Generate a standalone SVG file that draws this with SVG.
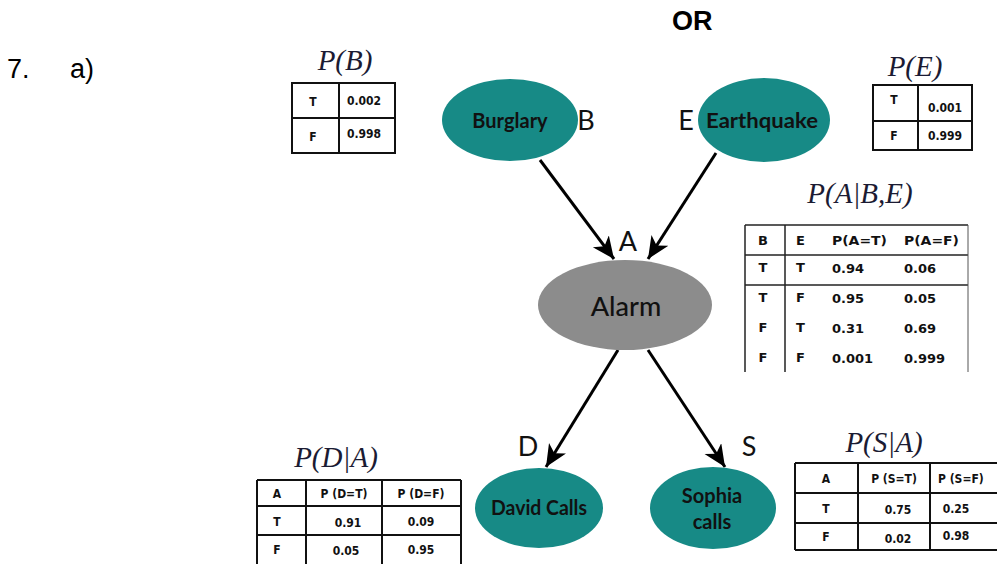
<svg xmlns="http://www.w3.org/2000/svg" width="997" height="564" viewBox="0 0 997 564">
<defs>
<marker id="arr" markerUnits="userSpaceOnUse" markerWidth="26" markerHeight="24" refX="22" refY="10" orient="auto">
<path d="M0,0 L22,10 L0,20 L6,10 z" fill="#000"/>
</marker>
</defs>
<style>
.q{font-family:"Liberation Sans",Arial,sans-serif;font-size:27px;fill:#000}
.teal{fill:#178a86}
.gray{fill:#8c8c8c}
.nl{font-family:Lato,"Open Sans",sans-serif;font-weight:bold;font-size:20px;fill:#111;text-anchor:middle}
.lab{font-family:Lato,"Open Sans",sans-serif;font-size:27px;fill:#111;text-anchor:middle}
.ttl{font-family:"Liberation Serif","Times New Roman",serif;font-style:italic;font-size:29px;fill:#1b1b33;text-anchor:middle}
.tb{fill:none;stroke:#111;stroke-width:2}
.tl{stroke:#111;stroke-width:2}
.tt{font-family:"DejaVu Sans",sans-serif;font-weight:bold;font-size:13px;fill:#111}
.ts{font-family:"DejaVu Sans Condensed","DejaVu Sans",sans-serif;font-weight:bold;font-size:12px;fill:#111}
.tc{text-anchor:middle}
.edge{stroke:#000;stroke-width:3;fill:none;marker-end:url(#arr)}
</style>
<rect width="997" height="564" fill="#fff"/>

<text class="q" x="7" y="78">7.</text>
<text class="q" x="70" y="78">a)</text>
<text class="q" x="672" y="30" font-weight="bold">OR</text>

<g id="connectors">
<line class="edge" x1="540" y1="160" x2="614" y2="259"/>
<line class="edge" x1="716" y1="153" x2="648" y2="259"/>
<line class="edge" x1="618" y1="350" x2="546" y2="467"/>
<line class="edge" x1="648" y1="350" x2="725" y2="467"/>
</g>

<g id="burglary">
<ellipse class="teal" cx="510" cy="120" rx="68" ry="41"/>
<text class="nl" x="510" y="128">Burglary</text>
<text class="lab" x="586" y="130">B</text>
</g>
<g id="earthquake">
<ellipse class="teal" cx="764" cy="120" rx="66" ry="42"/>
<text class="nl" x="762" y="128" textLength="112" lengthAdjust="spacingAndGlyphs">Earthquake</text>
<text class="lab" x="686" y="130">E</text>
</g>
<g id="alarm">
<ellipse class="gray" cx="625" cy="305" rx="87" ry="45"/>
<text class="lab" x="626" y="316" font-size="27" font-weight="500">Alarm</text>
<text class="lab" x="628" y="251" font-size="25">A</text>
</g>
<g id="david">
<ellipse class="teal" cx="539" cy="508" rx="64" ry="40"/>
<text class="nl" x="539" y="515" textLength="96" lengthAdjust="spacingAndGlyphs">David Calls</text>
<text class="lab" x="528" y="456" font-size="25">D</text>
</g>
<g id="sophia">
<ellipse class="teal" cx="713" cy="508" rx="63" ry="41"/>
<text class="nl" x="712" y="503">Sophia</text>
<text class="nl" x="712" y="529">calls</text>
<text class="lab" x="749" y="456" font-size="25">S</text>
</g>

<g id="pB">
<text class="ttl" x="345" y="70">P(B)</text>
<rect class="tb" x="292" y="83" width="103" height="70"/>
<line class="tl" x1="339" y1="83" x2="339" y2="153"/>
<line class="tl" x1="292" y1="118" x2="395" y2="118"/>
<text class="ts tc" x="313" y="106" font-size="11">T</text>
<text class="ts tc" x="364" y="105" font-size="11">0.002</text>
<text class="ts tc" x="313" y="141" font-size="11">F</text>
<text class="ts tc" x="364" y="138" font-size="11">0.998</text>
</g>

<g id="pE">
<text class="ttl" x="915" y="76">P(E)</text>
<rect class="tb" x="873" y="85" width="99" height="65"/>
<line class="tl" x1="918" y1="85" x2="918" y2="150"/>
<line class="tl" x1="873" y1="121" x2="972" y2="121"/>
<text class="ts tc" x="894" y="104" font-size="11">T</text>
<text class="ts tc" x="945" y="112" font-size="11">0.001</text>
<text class="ts tc" x="894" y="140" font-size="11">F</text>
<text class="ts tc" x="945" y="140" font-size="11">0.999</text>
</g>

<g id="pABE">
<text class="ttl" x="860" y="203">P(A|B,E)</text>
<line x1="745" y1="225" x2="968" y2="225" stroke="#222" stroke-width="1.5"/>
<line x1="745" y1="255" x2="968" y2="255" stroke="#222" stroke-width="1.5"/>
<line x1="745" y1="285" x2="968" y2="285" stroke="#222" stroke-width="1.5"/>
<line x1="745" y1="225" x2="745" y2="372" stroke="#222" stroke-width="1.5"/>
<line x1="785" y1="225" x2="785" y2="372" stroke="#222" stroke-width="1.5"/>
<line x1="968" y1="225" x2="968" y2="372" stroke="#555" stroke-width="1"/>
<text class="tt tc" x="763" y="245">B</text>
<text class="tt" x="796" y="245">E</text>
<text class="tt" x="832" y="245" textLength="55" lengthAdjust="spacingAndGlyphs">P(A=T)</text>
<text class="tt" x="904" y="245" textLength="55" lengthAdjust="spacingAndGlyphs">P(A=F)</text>
<text class="tt tc" x="763" y="272">T</text>
<text class="tt" x="796" y="272">T</text>
<text class="tt" x="832" y="273">0.94</text>
<text class="tt" x="904" y="273">0.06</text>
<text class="tt tc" x="763" y="302">T</text>
<text class="tt" x="796" y="302">F</text>
<text class="tt" x="832" y="303">0.95</text>
<text class="tt" x="904" y="303">0.05</text>
<text class="tt tc" x="763" y="332">F</text>
<text class="tt" x="796" y="332">T</text>
<text class="tt" x="832" y="333">0.31</text>
<text class="tt" x="904" y="333">0.69</text>
<text class="tt tc" x="763" y="362">F</text>
<text class="tt" x="796" y="362">F</text>
<text class="tt" x="832" y="363">0.001</text>
<text class="tt" x="904" y="363">0.999</text>
</g>

<g id="pDA">
<text class="ttl" x="336" y="467">P(D|A)</text>
<line class="tl" x1="257" y1="480" x2="461" y2="480"/>
<line class="tl" x1="257" y1="506" x2="461" y2="506"/>
<line class="tl" x1="257" y1="535" x2="461" y2="535"/>
<line class="tl" x1="257" y1="480" x2="257" y2="564"/>
<line class="tl" x1="306" y1="480" x2="306" y2="564"/>
<line class="tl" x1="382" y1="480" x2="382" y2="564"/>
<line class="tl" x1="461" y1="480" x2="461" y2="564"/>
<text class="ts tc" x="277" y="498">A</text>
<text class="ts tc" x="344" y="498">P (D=T)</text>
<text class="ts tc" x="421" y="498">P (D=F)</text>
<text class="ts tc" x="277" y="526">T</text>
<text class="ts tc" x="348" y="527">0.91</text>
<text class="ts tc" x="421" y="526">0.09</text>
<text class="ts tc" x="277" y="554">F</text>
<text class="ts tc" x="346" y="555">0.05</text>
<text class="ts tc" x="421" y="554">0.95</text>
</g>

<g id="pSA">
<text class="ttl" x="884" y="452">P(S|A)</text>
<line class="tl" x1="795" y1="463" x2="997" y2="463"/>
<line class="tl" x1="795" y1="493" x2="997" y2="493"/>
<line class="tl" x1="795" y1="523" x2="997" y2="523"/>
<line class="tl" x1="795" y1="550" x2="997" y2="550"/>
<line class="tl" x1="795" y1="463" x2="795" y2="550"/>
<line class="tl" x1="858" y1="463" x2="858" y2="550"/>
<line class="tl" x1="930" y1="463" x2="930" y2="550"/>
<text class="ts tc" x="826" y="483">A</text>
<text class="ts tc" x="894" y="483">P (S=T)</text>
<text class="ts" x="938" y="483">P (S=F)</text>
<text class="ts tc" x="826" y="513">T</text>
<text class="ts tc" x="898" y="514">0.75</text>
<text class="ts tc" x="956" y="513">0.25</text>
<text class="ts tc" x="826" y="541">F</text>
<text class="ts tc" x="898" y="543">0.02</text>
<text class="ts tc" x="956" y="540">0.98</text>
</g>
</svg>
